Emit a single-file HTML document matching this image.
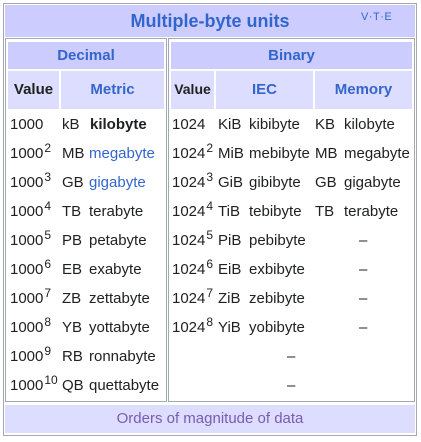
<!DOCTYPE html><html><head><style>
body{margin:0;width:421px;height:442px;background:#fff;font-family:"Liberation Sans",Arial,sans-serif;color:#202122;position:relative;overflow:hidden}
div{position:absolute;box-sizing:border-box}
.t{font-size:15px;white-space:nowrap;line-height:17px}
.h{font-weight:bold;font-size:15px;color:#3366cc;text-align:center;line-height:17px}
.s{font-size:12px;position:relative;top:-6px;line-height:12px;margin-left:1px}
a{color:#3366cc;text-decoration:none}
</style></head><body>
<div style="left:3px;top:3px;width:414px;height:433px;border:1px solid #a2a9b1"></div>
<div style="left:5px;top:5px;width:410px;height:32px;background:#ccccff"></div>
<div class="h" style="left:5px;top:11px;width:410px;font-size:18px;line-height:20px">Multiple-byte units</div>
<div style="left:361px;top:11px;font-size:11px;color:#3366cc;letter-spacing:0.5px">V·T·E</div>
<div style="left:5px;top:38px;width:162px;height:364px;border:1px solid #a2a9b1"></div>
<div style="left:168px;top:38px;width:247px;height:364px;border:1px solid #a2a9b1"></div>
<div style="left:8px;top:42px;width:156px;height:27px;background:#ccccff"></div>
<div style="left:171px;top:42px;width:241px;height:27px;background:#ccccff"></div>
<div class="h" style="left:8px;top:47px;width:156px">Decimal</div>
<div class="h" style="left:171px;top:47px;width:241px">Binary</div>
<div style="left:8px;top:71px;width:51px;height:38px;background:#ddddff"></div>
<div style="left:61px;top:71px;width:103px;height:38px;background:#ddddff"></div>
<div style="left:171px;top:71px;width:43px;height:38px;background:#ddddff"></div>
<div style="left:216px;top:71px;width:97px;height:38px;background:#ddddff"></div>
<div style="left:315px;top:71px;width:97px;height:38px;background:#ddddff"></div>
<div class="h" style="left:8px;top:81px;width:51px;color:#202122">Value</div>
<div class="h" style="left:61px;top:81px;width:103px">Metric</div>
<div class="h" style="left:171px;top:81px;width:43px;color:#202122;font-size:14px">Value</div>
<div class="h" style="left:216px;top:81px;width:97px">IEC</div>
<div class="h" style="left:315px;top:81px;width:97px">Memory</div>

<div class="t" style="left:10px;top:116px">1000</div><div class="t" style="left:62px;top:116px">kB</div><div class="t" style="left:90px;top:116px;font-weight:bold">kilobyte</div>
<div class="t" style="left:10px;top:145px">1000<span class="s">2</span></div><div class="t" style="left:62px;top:145px">MB</div><div class="t" style="left:89px;top:145px"><a>megabyte</a></div>
<div class="t" style="left:10px;top:174px">1000<span class="s">3</span></div><div class="t" style="left:62px;top:174px">GB</div><div class="t" style="left:89px;top:174px"><a>gigabyte</a></div>
<div class="t" style="left:10px;top:203px">1000<span class="s">4</span></div><div class="t" style="left:62px;top:203px">TB</div><div class="t" style="left:89px;top:203px">terabyte</div>
<div class="t" style="left:10px;top:232px">1000<span class="s">5</span></div><div class="t" style="left:62px;top:232px">PB</div><div class="t" style="left:89px;top:232px">petabyte</div>
<div class="t" style="left:10px;top:261px">1000<span class="s">6</span></div><div class="t" style="left:62px;top:261px">EB</div><div class="t" style="left:89px;top:261px">exabyte</div>
<div class="t" style="left:10px;top:290px">1000<span class="s">7</span></div><div class="t" style="left:62px;top:290px">ZB</div><div class="t" style="left:89px;top:290px">zettabyte</div>
<div class="t" style="left:10px;top:319px">1000<span class="s">8</span></div><div class="t" style="left:62px;top:319px">YB</div><div class="t" style="left:89px;top:319px">yottabyte</div>
<div class="t" style="left:10px;top:348px">1000<span class="s">9</span></div><div class="t" style="left:62px;top:348px">RB</div><div class="t" style="left:89px;top:348px">ronnabyte</div>
<div class="t" style="left:10px;top:377px">1000<span class="s">10</span></div><div class="t" style="left:62px;top:377px">QB</div><div class="t" style="left:89px;top:377px">quettabyte</div>

<div class="t" style="left:172px;top:116px">1024</div><div class="t" style="left:218px;top:116px">KiB</div><div class="t" style="left:249px;top:116px">kibibyte</div><div class="t" style="left:315px;top:116px">KB</div><div class="t" style="left:344px;top:116px">kilobyte</div>
<div class="t" style="left:172px;top:145px">1024<span class="s">2</span></div><div class="t" style="left:218px;top:145px">MiB</div><div class="t" style="left:249px;top:145px">mebibyte</div><div class="t" style="left:315px;top:145px">MB</div><div class="t" style="left:344px;top:145px">megabyte</div>
<div class="t" style="left:172px;top:174px">1024<span class="s">3</span></div><div class="t" style="left:218px;top:174px">GiB</div><div class="t" style="left:249px;top:174px">gibibyte</div><div class="t" style="left:315px;top:174px">GB</div><div class="t" style="left:344px;top:174px">gigabyte</div>
<div class="t" style="left:172px;top:203px">1024<span class="s">4</span></div><div class="t" style="left:218px;top:203px">TiB</div><div class="t" style="left:249px;top:203px">tebibyte</div><div class="t" style="left:315px;top:203px">TB</div><div class="t" style="left:344px;top:203px">terabyte</div>
<div class="t" style="left:172px;top:232px">1024<span class="s">5</span></div><div class="t" style="left:218px;top:232px">PiB</div><div class="t" style="left:249px;top:232px">pebibyte</div><div class="t" style="left:359px;top:232px">–</div>
<div class="t" style="left:172px;top:261px">1024<span class="s">6</span></div><div class="t" style="left:218px;top:261px">EiB</div><div class="t" style="left:249px;top:261px">exbibyte</div><div class="t" style="left:359px;top:261px">–</div>
<div class="t" style="left:172px;top:290px">1024<span class="s">7</span></div><div class="t" style="left:218px;top:290px">ZiB</div><div class="t" style="left:249px;top:290px">zebibyte</div><div class="t" style="left:359px;top:290px">–</div>
<div class="t" style="left:172px;top:319px">1024<span class="s">8</span></div><div class="t" style="left:218px;top:319px">YiB</div><div class="t" style="left:249px;top:319px">yobibyte</div><div class="t" style="left:359px;top:319px">–</div>
<div class="t" style="left:287px;top:348px">–</div>
<div class="t" style="left:287px;top:377px">–</div>

<div style="left:5px;top:405px;width:410px;height:28px;background:#ddddff"></div>
<div class="t" style="left:5px;top:410px;width:410px;text-align:center;color:#795cb2">Orders of magnitude of data</div>
</body></html>
